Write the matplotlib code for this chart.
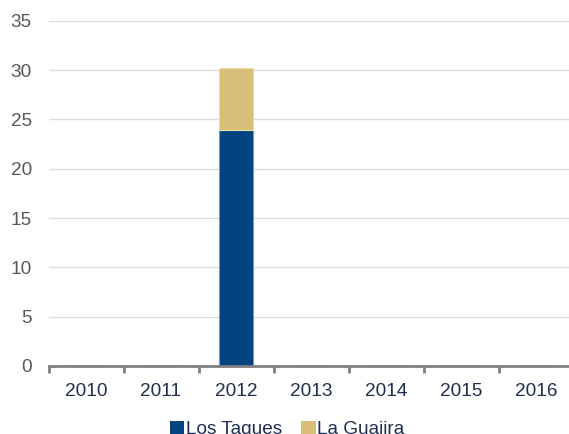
import matplotlib
matplotlib.use("Agg")
import matplotlib.pyplot as plt
import numpy as np

plt.rcParams['font.family'] = ['Liberation Sans', 'DejaVu Sans']

years = ['2010', '2011', '2012', '2013', '2014', '2015', '2016']
los_taques = [0, 0, 23.9, 0, 0, 0, 0]
la_guajira = [0, 0, 6.3, 0, 0, 0, 0]
series_names = ['Los Taques', 'La Guajira']
y_ticks = [0, 5, 10, 15, 20, 25, 30, 35]

c_blue = '#00437F'
c_gold = '#D8BE76'
fs = 13.7

W, H = 569, 434
fig = plt.figure(figsize=(W / 100, H / 100), dpi=100)
left, right = 48.5 / W, 573.5 / W
bottom, top = (H - 366) / H, (H - 20.7) / H
ax = fig.add_axes([left, bottom, right - left, top - bottom])

x = np.arange(len(years))
b1 = ax.bar(x, los_taques, width=0.45, color=c_blue, edgecolor='#6F9BCB',
            linewidth=0.8, label=series_names[0], zorder=3)
b2 = ax.bar(x, la_guajira, bottom=los_taques, width=0.45, color=c_gold,
            edgecolor='#EEDDAA', linewidth=0.8, label=series_names[1], zorder=3)

ax.set_xlim(-0.5, len(years) - 0.5)
ax.set_ylim(0, 35)
ax.set_yticks(y_ticks)
ax.set_yticklabels([str(v) for v in y_ticks])
ax.yaxis.grid(True, color='#DDDDDD', linewidth=1.0, zorder=0)
ax.set_axisbelow(True)

for s in ['top', 'right', 'left']:
    ax.spines[s].set_visible(False)
ax.spines['bottom'].set_color('#808080')
ax.spines['bottom'].set_linewidth(2.0)
ax.spines['bottom'].set_zorder(4)

ax.set_xticks(x)
ax.set_xticklabels(years)
ax.set_xticks(np.arange(-0.5, len(years) + 0.5, 1), minor=True)
ax.tick_params(axis='x', which='major', length=0, pad=12, labelsize=fs,
               labelcolor='#1F2F50')
ax.tick_params(axis='x', which='minor', length=5, width=2, color='#808080',
               direction='out')
ax.tick_params(axis='y', length=0, pad=12, labelsize=fs, labelcolor='#595959')

leg = fig.legend(handles=[b1, b2], labels=series_names, loc='center',
                 bbox_to_anchor=(287 / W, (H - 429.5) / H), ncol=2,
                 frameon=False, fontsize=fs, handlelength=0.78,
                 handleheight=0.78, handletextpad=0.07, columnspacing=1.0,
                 borderpad=0, borderaxespad=0)
for t in leg.get_texts():
    t.set_color('#1F2F50')
for h in leg.legend_handles:
    h.set_edgecolor('none')

fig.savefig('out.png', dpi=100)
